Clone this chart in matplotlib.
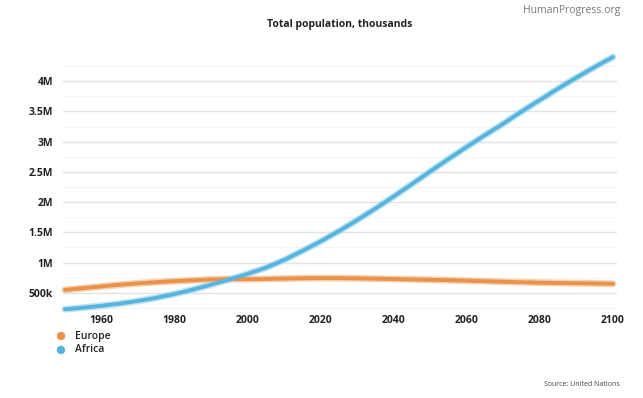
import matplotlib
matplotlib.use("Agg")
import matplotlib.pyplot as plt
from matplotlib.ticker import FixedLocator, FuncFormatter

years = [1950, 1955, 1960, 1965, 1970, 1975, 1980, 1985, 1990, 1995, 2000,
         2005, 2010, 2015, 2020, 2025, 2030, 2035, 2040, 2045, 2050, 2055,
         2060, 2065, 2070, 2075, 2080, 2085, 2090, 2095, 2100]
europe = [549, 577, 606, 635, 657, 677, 694, 708, 721, 727, 726,
          729, 736, 741, 744, 743, 739, 734, 728, 722, 716, 709,
          701, 692, 683, 675, 668, 663, 659, 655, 650]
africa = [228, 255, 285, 322, 366, 418, 481, 554, 635, 721, 814,
          916, 1044, 1194, 1352, 1522, 1704, 1896, 2095, 2300, 2510, 2715,
          2915, 3110, 3300, 3500, 3690, 3880, 4060, 4235, 4400]
europe = [v * 1000 for v in europe]
africa = [v * 1000 for v in africa]

series_names = ["Europe", "Africa"]
colors = ["#E8924A", "#56B4DE"]
halo = ["#F4C08F", "#A9DAF0"]

xticks = [1960, 1980, 2000, 2020, 2040, 2060, 2080, 2100]
yticks = [500000, 1000000, 1500000, 2000000, 2500000, 3000000, 3500000, 4000000]
ytick_labels = ["500k", "1M", "1.5M", "2M", "2.5M", "3M", "3.5M", "4M"]
minor_yticks = [250000, 750000, 1250000, 1750000, 2250000, 2750000, 3250000, 3750000, 4250000]

plt.rcParams['font.family'] = ['Open Sans', 'DejaVu Sans']

W, H = 643, 398
fig = plt.figure(figsize=(W / 100, H / 100), dpi=100)
left, right = 63 / W, 617 / W
bottom, top = 1 - 314 / H, 1 - 51 / H
ax = fig.add_axes([left, bottom, right - left, top - bottom])

ax.set_xlim(1949.45, 2101.1)
ax.set_ylim(150000, 4500000)

for s in ax.spines.values():
    s.set_visible(False)

ax.yaxis.set_major_locator(FixedLocator(yticks))
ax.yaxis.set_minor_locator(FixedLocator(minor_yticks))
ax.yaxis.set_major_formatter(FuncFormatter(lambda v, p: ytick_labels[yticks.index(v)] if v in yticks else ""))
ax.set_xticks(xticks)
ax.set_xticklabels([str(x) for x in xticks])
ax.grid(True, axis='y', which='major', color='#e3e3e3', lw=1.0)
ax.grid(True, axis='y', which='minor', color='#f5f5f5', lw=1.0)
ax.grid(False, axis='x')
ax.tick_params(axis='both', which='both', length=0)
ax.tick_params(axis='y', pad=7, labelsize=7.5, labelcolor='#222222')
ax.tick_params(axis='x', pad=1, labelsize=7.5, labelcolor='#222222')
for lab in ax.get_xticklabels() + ax.get_yticklabels():
    lab.set_fontweight('bold')
ax.set_axisbelow(True)

for vals, c, h in zip([europe, africa], colors, halo):
    ax.plot(years, vals, color=h, lw=5.0, alpha=0.7, solid_capstyle='round', clip_on=False, zorder=3)
    ax.plot(years, vals, color=c, lw=2.8, solid_capstyle='round', clip_on=False, zorder=4)

fig.text(340 / W, 1 - 24 / H, "Total population, thousands", ha='center', va='center',
         fontsize=7.5, fontweight='bold', color='#222222')
fig.text(620 / W, 1 - 10 / H, "HumanProgress.org", ha='right', va='center',
         fontsize=7.5, color='#777777')
fig.text(620 / W, 1 - 385 / H, "Source: United Nations", ha='right', va='center',
         fontsize=5, color='#444444')

for i, (name, c) in enumerate(zip(series_names, colors)):
    yy = 1 - (336 + 14 * i) / H
    fig.patches.append(matplotlib.patches.Ellipse((61 / W, yy), 7 / W, 7 / H, color=c,
                                                  transform=fig.transFigure, figure=fig))
    fig.text(75 / W, yy, name, ha='left', va='center', fontsize=7.5,
             fontweight='semibold', color='#222222')

fig.savefig("out.png", dpi=100, facecolor='white')
